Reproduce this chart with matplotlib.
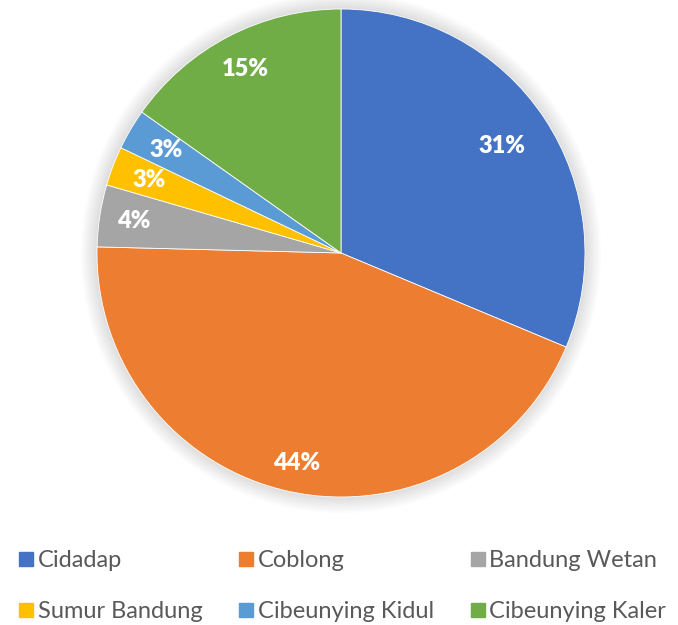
import numpy as np
import matplotlib.pyplot as plt
from matplotlib.lines import Line2D
from matplotlib.patches import Circle

plt.rcParams['font.family'] = ['Lato', 'DejaVu Sans']

districts = ["Cidadap", "Coblong", "Bandung Wetan", "Sumur Bandung",
             "Cibeunying Kidul", "Cibeunying Kaler"]
shares = [31.3, 44.1, 4.1, 2.6, 2.7, 15.2]
pct_labels = ["31%", "44%", "4%", "3%", "3%", "15%"]
colors = ["#4472C4", "#ED7D31", "#A5A5A5", "#FFC000", "#5B9BD5", "#70AD47"]
label_dist = [0.79, 0.88, 0.86, 0.84, 0.83, 0.85]

fig = plt.figure(figsize=(6.78, 6.25), dpi=100)
W, H = 678, 625
cx, cy, r = 341, 253, 244
ax = fig.add_axes([(cx - r) / W, (H - cy - r) / H, 2 * r / W, 2 * r / H])

# soft shadow around the pie
for k in range(12):
    ax.add_patch(Circle((0, 0), 1.0 + 0.006 * k, facecolor="black",
                        alpha=0.012, edgecolor="none", zorder=0, clip_on=False))

wedges, _ = ax.pie(shares, colors=colors, startangle=90, counterclock=False,
                   radius=1, wedgeprops=dict(edgecolor="white", linewidth=0.6))

for w, lab, d in zip(wedges, pct_labels, label_dist):
    mid = np.deg2rad((w.theta1 + w.theta2) / 2)
    ax.text(d * np.cos(mid), d * np.sin(mid), lab, ha="center", va="center",
            color="white", fontsize=17, fontweight="heavy")

ax.set_xlim(-1, 1)
ax.set_ylim(-1, 1)
ax.axis("off")

# legend filled row by row, like the original
order = [0, 3, 1, 4, 2, 5]
handles = [Line2D([], [], marker="s", linestyle="none", markersize=10,
                  markerfacecolor=colors[i], markeredgecolor=colors[i]) for i in order]
leg = fig.legend(handles, [districts[i] for i in order], loc="lower left", ncol=3,
                 bbox_to_anchor=(6 / W, -0.014, 672 / W, 0.15), mode="expand",
                 frameon=False, fontsize=17, handletextpad=0.15,
                 handlelength=0.7, labelspacing=1.25, borderaxespad=0.1)
for t in leg.get_texts():
    t.set_color("#595959")

fig.savefig("out.png", dpi=100)
